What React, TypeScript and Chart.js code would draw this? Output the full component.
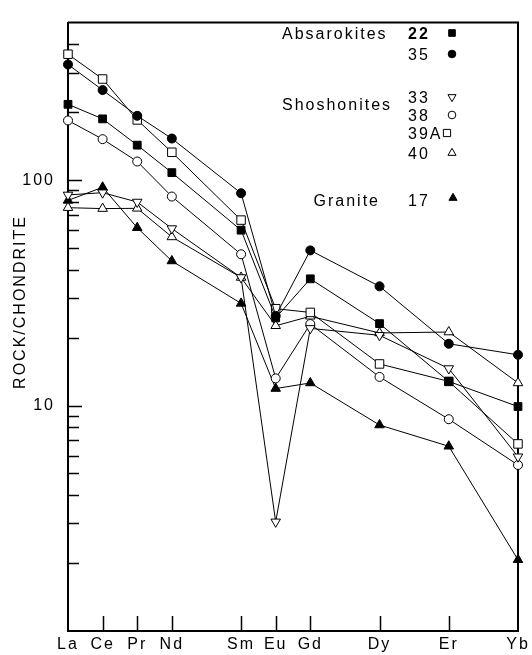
import { useEffect, useRef } from 'react';
import { Chart, registerables } from 'chart.js';

Chart.register(...registerables);

// Rare earth elements and their atomic numbers (x positions)
const elements = ['La', 'Ce', 'Pr', 'Nd', 'Sm', 'Eu', 'Gd', 'Dy', 'Er', 'Yb'];
const atomicNumbers = [57, 58, 59, 60, 62, 63, 64, 66, 68, 70];

// Rock / chondrite values per sample
const s22 = [217, 187, 143, 108, 60, 24.5, 36.5, 23.1, 12.8, 9.9];
const s35 = [326, 251, 193, 153, 87.5, 25, 48.8, 33.8, 18.8, 16.8];
const s33 = [86, 88, 80, 61, 37, 3.05, 22, 20.5, 14.6, 5.93];
const s38 = [184, 152, 121, 84.6, 46.9, 13.2, 23, 13.4, 8.7, 5.45];
const s39A = [362, 281, 185, 133, 66.5, 26.9, 25.9, 15.3, 12.8, 6.76];
const s40 = [75.5, 74.8, 75, 56, 37, 22.6, 24.9, 21, 21.2, 12.6];
const s17 = [81.3, 93, 61.5, 43.8, 28.4, 11.9, 12.6, 8.2, 6.6, 2.07];

const yLabelTicks = [10, 100];
const yAllTicks = [2, 3, 4, 5, 6, 7, 8, 9, 10, 20, 30, 40, 50, 60, 70, 80, 90, 100, 200, 300, 400];

const FONT = '"Liberation Sans", Arial, Helvetica, sans-serif';

type Marker = { style: string; fill: boolean; r: number; rot?: number };

const markers: Record<string, Marker> = {
  '22': { style: 'rect', fill: true, r: 5.5 },
  '35': { style: 'circle', fill: true, r: 4.5 },
  '33': { style: 'triangle', fill: false, r: 5.5, rot: 180 },
  '38': { style: 'circle', fill: false, r: 4.5 },
  '39A': { style: 'rect', fill: false, r: 6 },
  '40': { style: 'triangle', fill: false, r: 5.5 },
  '17': { style: 'triangle', fill: true, r: 5.5 },
};

function drawMarker(ctx: CanvasRenderingContext2D, m: Marker, x: number, y: number, scale = 1) {
  const r = m.r * scale;
  ctx.save();
  ctx.beginPath();
  ctx.lineWidth = 1;
  ctx.strokeStyle = '#000';
  ctx.fillStyle = m.fill ? '#000' : '#fff';
  if (m.style === 'circle') {
    ctx.arc(x, y, r, 0, Math.PI * 2);
  } else if (m.style === 'rect') {
    const s = Math.SQRT1_2 * r;
    ctx.rect(x - s, y - s, 2 * s, 2 * s);
  } else {
    const dir = m.rot === 180 ? -1 : 1;
    ctx.moveTo(x, y - dir * r);
    ctx.lineTo(x + r * Math.sin(Math.PI / 3), y + dir * r * 0.5);
    ctx.lineTo(x - r * Math.sin(Math.PI / 3), y + dir * r * 0.5);
    ctx.closePath();
  }
  ctx.fill();
  ctx.stroke();
  ctx.restore();
}

const framePlugin = {
  id: 'frame',
  beforeDraw(chart: any) {
    const ctx = chart.ctx as any;
    ctx.save();
    ctx.fillStyle = '#fff';
    ctx.fillRect(0, 0, chart.width, chart.height);
    ctx.restore();
    ctx.letterSpacing = '2px';
  },
  beforeDatasetsDraw(chart: any) {
    const { ctx, chartArea: a, scales } = chart;
    ctx.save();
    ctx.strokeStyle = '#000';
    ctx.lineWidth = 2;
    ctx.beginPath();
    ctx.moveTo(a.left, a.top);
    ctx.lineTo(a.right, a.top);
    ctx.lineTo(a.right, a.bottom);
    ctx.stroke();
    ctx.lineWidth = 1.5;
    ctx.beginPath();
    for (const v of yAllTicks) {
      const y = Math.round(scales.y.getPixelForValue(v)) + 0.5;
      const len = yLabelTicks.includes(v) ? 14 : 11;
      ctx.moveTo(a.left, y);
      ctx.lineTo(a.left + len, y);
    }
    for (const n of atomicNumbers.slice(1, -1)) {
      const x = Math.round(scales.x.getPixelForValue(n)) + 0.5;
      ctx.moveTo(x, a.bottom);
      ctx.lineTo(x, a.bottom - 15);
    }
    ctx.stroke();
    ctx.restore();
  },
  afterDraw(chart: any) {
    const ctx = chart.ctx as any;
    ctx.save();
    ctx.letterSpacing = '2px';
    ctx.fillStyle = '#000';
    ctx.font = `16px ${FONT}`;
    // y axis title
    ctx.save();
    ctx.translate(25, 302);
    ctx.rotate(-Math.PI / 2);
    ctx.textAlign = 'center';
    ctx.textBaseline = 'alphabetic';
    ctx.fillText('ROCK/CHONDRITE', 0, 0);
    ctx.restore();

    ctx.textAlign = 'left';
    ctx.textBaseline = 'alphabetic';
    const base = (cy: number) => cy + 5.8;
    ctx.fillText('Absarokites', 282, base(33));
    ctx.fillText('Shoshonites', 282, base(104));
    ctx.textAlign = 'right';
    ctx.fillText('Granite', 380, base(200));
    ctx.textAlign = 'left';
    ctx.font = `bold 16px ${FONT}`;
    ctx.fillText('22', 408, base(33));
    ctx.font = `16px ${FONT}`;
    const rows: [string, number, number][] = [
      ['35', 54, 452],
      ['33', 97, 452],
      ['38', 115, 452],
      ['39A', 133, 447],
      ['40', 153, 452],
      ['17', 200, 453],
    ];
    for (const [lab, cy] of rows) ctx.fillText(lab, 408, base(cy));
    drawMarker(ctx, markers['22'], 452, 33, 0.85);
    for (const [lab, cy, mx] of rows) drawMarker(ctx, markers[lab], mx, lab === '17' ? cy - 2 : cy, 0.85);
    ctx.restore();
  },
};

const series: [string, number[]][] = [
  ['22', s22],
  ['35', s35],
  ['33', s33],
  ['38', s38],
  ['39A', s39A],
  ['40', s40],
  ['17', s17],
];

export default function App() {
  const ref = useRef<HTMLCanvasElement>(null);
  useEffect(() => {
    if (!ref.current) return;
    const chart = new Chart(ref.current, {
      type: 'line',
      data: {
        datasets: series.map(([lab, vals]) => {
          const m = markers[lab];
          return {
            label: lab,
            data: vals.map((v, i) => ({ x: atomicNumbers[i], y: v })),
            borderColor: '#000',
            borderWidth: 1,
            pointStyle: m.style as any,
            pointRotation: m.rot ?? 0,
            pointRadius: m.r,
            pointBackgroundColor: m.fill ? '#000' : '#fff',
            pointBorderColor: '#000',
            pointBorderWidth: 1,
            tension: 0,
            fill: false,
            clip: false as any,
          };
        }),
      },
      options: {
        responsive: false,
        animation: false,
        events: [],
        layout: { padding: { left: 0, top: 12, right: 14, bottom: 0 } },
        plugins: { legend: { display: false }, tooltip: { enabled: false } },
        scales: {
          x: {
            type: 'linear',
            min: 57,
            max: 70,
            afterBuildTicks: (scale: any) => {
              scale.ticks = atomicNumbers.map((v) => ({ value: v }));
            },
            afterFit: (scale: any) => {
              scale.height = 24;
            },
            grid: { display: false, drawTicks: false },
            border: { display: true, color: '#000', width: 2 },
            ticks: {
              autoSkip: false,
              maxRotation: 0,
              padding: 4,
              color: '#000',
              font: { family: FONT, size: 16 },
              callback: (v: any) => elements[atomicNumbers.indexOf(Number(v))] ?? '',
            },
          },
          y: {
            type: 'logarithmic',
            min: 1,
            max: 500,
            afterBuildTicks: (scale: any) => {
              scale.ticks = yLabelTicks.map((v) => ({ value: v, major: true }));
            },
            afterFit: (scale: any) => {
              scale.width = 68;
            },
            grid: { display: false, drawTicks: false },
            border: { display: true, color: '#000', width: 2 },
            ticks: {
              padding: 13,
              color: '#000',
              font: { family: FONT, size: 16 },
              callback: (v: any) => String(v),
            },
          },
        },
      },
      plugins: [framePlugin],
    });
    return () => chart.destroy();
  }, []);
  return (
    <div style={{ position: 'fixed', left: 0, top: 0, width: 532, height: 655, background: '#fff' }}>
      <canvas ref={ref} width={532} height={655} style={{ display: 'block' }} />
    </div>
  );
}
